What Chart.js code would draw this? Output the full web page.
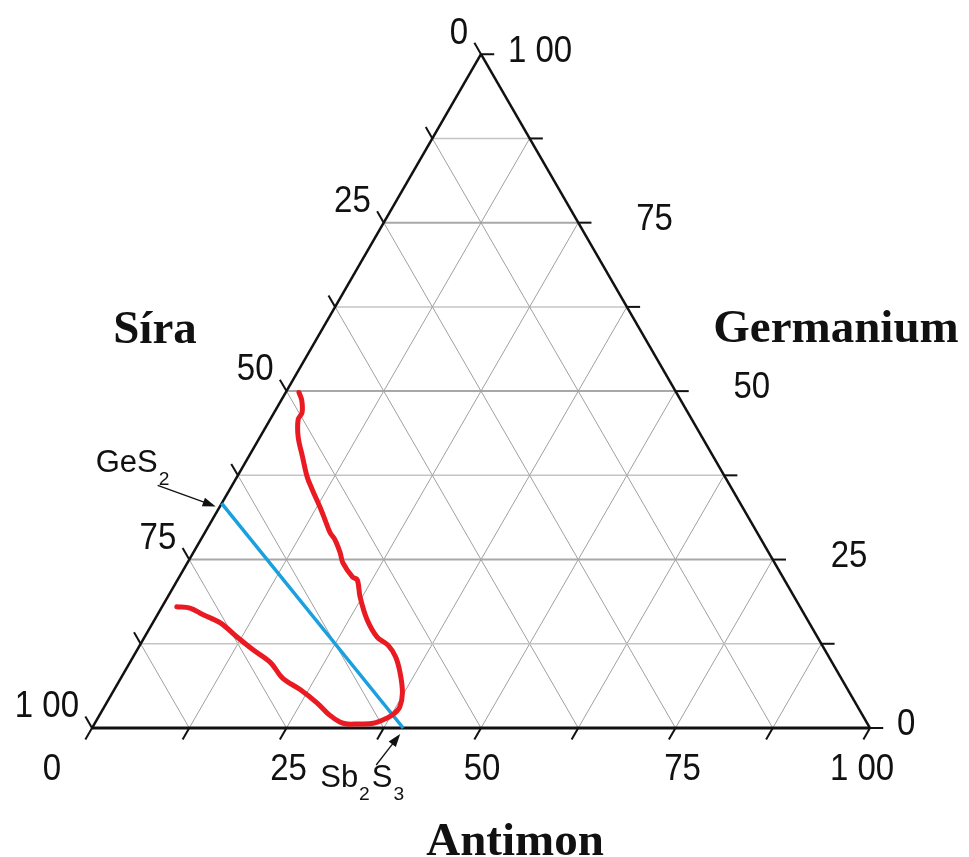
<!DOCTYPE html>
<html>
<head>
<meta charset="utf-8">
<script src="https://cdn.jsdelivr.net/npm/chart.js@4"></script>
<style>
  html, body { margin: 0; padding: 0; background: #fff; }
  canvas { display: block; }
</style>
</head>
<body>
<canvas id="ternario" width="969" height="857"></canvas>
<script>
// diagramma ternario Sb - Ge - S, valori in % (lo zolfo e' il resto fino a 100)
const tacche = [0, 25, 50, 75, 100];
const etichetteTacche = ["0", "25", "50", "75", "1 00"];
const taccheMinori = [0, 12.5, 25, 37.5, 50, 62.5, 75, 87.5, 100];
const linieGriglia = [12.5, 25, 37.5, 50, 62.5, 75, 87.5];

// titoli degli assi: sinistro (zolfo), destro (germanio), basso (antimonio)
const titoliAssi = ["Síra", "Germanium", "Antimon"];

// retta GeS2 -> Sb2S3
const rettaSb = [0, 40];
const rettaGe = [33.33, 0];

// curva rossa (antimonio, germanio)
const curvaSb = [1.7, 2.6, 3.6, 3.6, 4.9, 6.9, 9.0, 10.6, 12.9, 14.5, 16.1, 17.3, 18.9, 20.0, 22.3, 23.1, 24.7, 27.3, 29.9, 31.9, 33.7, 35.5, 37.3, 38.0, 37.8, 37.2, 35.8, 33.8, 32.5, 31.4, 29.6, 27.1, 23.9, 20.8, 18.1, 14.9, 11.9, 8.7, 5.9, 3.7, 1.9];
const curvaGe = [49.8, 48.7, 46.8, 45.8, 43.2, 40.3, 37.3, 35.4, 32.8, 30.9, 29.0, 27.9, 26.0, 24.5, 22.4, 22.0, 19.5, 16.1, 13.5, 12.3, 10.6, 8.2, 5.2, 3.1, 2.2, 1.5, 0.7, 0.6, 0.6, 0.9, 1.9, 3.7, 5.7, 7.4, 9.7, 11.6, 13.5, 15.6, 16.8, 17.8, 18.0];

// conversione da composizione a coordinate cartesiane del triangolo
const H = Math.sqrt(3) / 2;
function punto(sb, ge) {
  return { x: sb + ge / 2, y: ge * H };
}

function segmento(a, b, colore, spessore, ordine) {
  return {
    data: [a, b],
    showLine: true,
    borderColor: colore,
    borderWidth: spessore,
    pointRadius: 0,
    borderCapStyle: "butt",
    order: ordine,
  };
}

const datasets = [];

// curva e retta sopra a tutto
datasets.push({
  data: curvaSb.map((sb, i) => punto(sb, curvaGe[i])),
  showLine: true,
  borderColor: "#ea1a22",
  borderWidth: 5,
  pointRadius: 0,
  tension: 0.35,
  borderCapStyle: "round",
  borderJoinStyle: "round",
  order: 0,
});
datasets.push({
  data: rettaSb.map((sb, i) => punto(sb, rettaGe[i])),
  showLine: true,
  borderColor: "#1a9fdf",
  borderWidth: 3.5,
  pointRadius: 0,
  order: 0,
});

// griglia interna ogni 12.5 %
linieGriglia.forEach((v) => {
  const maggiore = v % 25 === 0;
  // germanio costante (orizzontali)
  datasets.push(segmento(punto(0, v), punto(100 - v, v), maggiore ? "#a8a8a8" : "#c4c4c4", maggiore ? 2 : 1.5, 2));
  // antimonio costante
  datasets.push(segmento(punto(v, 0), punto(v, 100 - v), "#a0a0a0", 1, 2));
  // zolfo costante
  datasets.push(segmento(punto(100 - v, 0), punto(0, 100 - v), "#a0a0a0", 1, 2));
});

// lati del triangolo
datasets.push(segmento(punto(0, 0), punto(100, 0), "#111", 3, 1));
datasets.push(segmento(punto(0, 0), punto(0, 100), "#111", 2.5, 1));
datasets.push(segmento(punto(100, 0), punto(0, 100), "#111", 2.5, 1));

// tacche sugli assi, verso l'esterno lungo le linee della griglia
const L = 1.7;
taccheMinori.forEach((v) => {
  datasets.push(segmento(punto(v, 0), punto(v, -L), "#111", 2, 1));
  datasets.push(segmento(punto(0, 100 - v), punto(-L, 100 - v + L), "#111", 2, 1));
  datasets.push(segmento(punto(100 - v, v), punto(100 - v + L, v), "#111", 2, 1));
});

function testo(ctx, str, x, y, font, align, sy) {
  ctx.save();
  ctx.translate(x, y);
  ctx.scale(1, sy || 1);
  ctx.font = font;
  ctx.textAlign = align;
  ctx.textBaseline = "middle";
  ctx.fillText(str, 0, 0);
  ctx.restore();
}

// formula chimica con pedici, parte da sinistra sulla linea di base
function formula(ctx, pezzi, x, y, dim) {
  ctx.save();
  ctx.textAlign = "left";
  ctx.textBaseline = "alphabetic";
  pezzi.forEach(([s, pedice]) => {
    ctx.font = (pedice ? dim * 0.62 : dim) + "px 'Liberation Sans', Arial, sans-serif";
    ctx.fillText(s, x, pedice ? y + dim * 0.42 : y);
    x += ctx.measureText(s).width + (pedice ? 2 : 1);
  });
  ctx.restore();
}

function freccia(ctx, x1, y1, x2, y2) {
  const ang = Math.atan2(y2 - y1, x2 - x1);
  ctx.save();
  ctx.strokeStyle = "#111";
  ctx.fillStyle = "#111";
  ctx.lineWidth = 1.3;
  ctx.beginPath();
  ctx.moveTo(x1, y1);
  ctx.lineTo(x2 - 8 * Math.cos(ang), y2 - 8 * Math.sin(ang));
  ctx.stroke();
  ctx.beginPath();
  ctx.moveTo(x2, y2);
  ctx.lineTo(x2 - 13 * Math.cos(ang) + 4.5 * Math.sin(ang), y2 - 13 * Math.sin(ang) - 4.5 * Math.cos(ang));
  ctx.lineTo(x2 - 13 * Math.cos(ang) - 4.5 * Math.sin(ang), y2 - 13 * Math.sin(ang) + 4.5 * Math.cos(ang));
  ctx.closePath();
  ctx.fill();
  ctx.restore();
}

// scritte: numeri degli assi, titoli e composti
const scritte = {
  id: "scritte",
  afterDatasetsDraw(chart) {
    const ctx = chart.ctx;
    const sx = chart.scales.x;
    const sy = chart.scales.y;
    const px = (p) => ({ x: sx.getPixelForValue(p.x), y: sy.getPixelForValue(p.y) });
    const fontNum = "33px 'Liberation Sans', Arial, sans-serif";
    ctx.fillStyle = "#111";

    const spostaBasso = [-40, 2, 1, 7, -8];
    tacche.forEach((v, i) => {
      // asse sinistro (zolfo)
      const s = px(punto(0, 100 - v));
      testo(ctx, etichetteTacche[i], s.x - 13, s.y - 21, fontNum, "right", 1.13);
      // asse destro (germanio)
      const d = px(punto(100 - v, v));
      const dx = v === 0 || v === 100 ? 27 : 58;
      testo(ctx, etichetteTacche[i], d.x + dx, d.y - 3, fontNum, "left", 1.13);
      // asse in basso (antimonio)
      const b = px(punto(v, 0));
      testo(ctx, etichetteTacche[i], b.x + spostaBasso[i], b.y + 42, fontNum, "center", 1.13);
    });

    ctx.save();
    ctx.font = "bold 47px 'Liberation Serif', 'Times New Roman', serif";
    ctx.textAlign = "center";
    ctx.textBaseline = "alphabetic";
    ctx.fillText(titoliAssi[0], 155, 343);
    ctx.fillText(titoliAssi[1], 836, 342);
    ctx.fillText(titoliAssi[2], 515, 855);
    ctx.restore();

    // GeS2 sul lato sinistro
    const g = px(punto(rettaSb[0], rettaGe[0]));
    formula(ctx, [["GeS", false], ["2", true]], g.x - 126, g.y - 31, 31);
    freccia(ctx, g.x - 64, g.y - 18, g.x - 6, g.y + 3);

    // Sb2S3 sulla base
    const q = px(punto(rettaSb[1], rettaGe[1]));
    formula(ctx, [["Sb", false], ["2", true], ["S", false], ["3", true]], q.x - 83, q.y + 59, 31);
    freccia(ctx, q.x - 27, q.y + 37, q.x - 3, q.y + 6);
  },
};

new Chart(document.getElementById("ternario"), {
  type: "scatter",
  data: { datasets: datasets },
  options: {
    responsive: false,
    animation: false,
    devicePixelRatio: 1,
    layout: { padding: 0 },
    plugins: { legend: { display: false }, tooltip: { enabled: false } },
    scales: {
      x: { type: "linear", display: false, min: -92 / 7.78, max: 877 / 7.78 },
      y: { type: "linear", display: false, min: -129 / 7.78, max: 728 / 7.78 },
    },
  },
  plugins: [scritte],
});
</script>
</body>
</html>
